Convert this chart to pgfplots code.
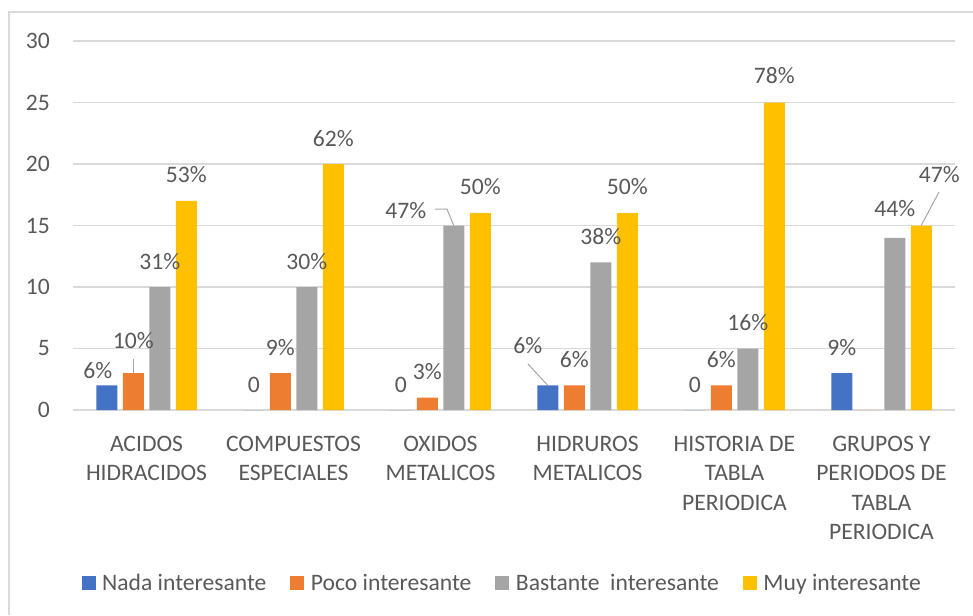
\documentclass[border=0pt]{standalone}
\usepackage{fontspec}
\setmainfont{Carlito}
\usepackage{pgfplots}
\usepackage{pgfplotstable}
\pgfplotsset{compat=1.18}

\definecolor{cNada}{HTML}{4472C4}
\definecolor{cPoco}{HTML}{ED7D31}
\definecolor{cBast}{HTML}{A5A5A5}
\definecolor{cMuy}{HTML}{FFC000}
\definecolor{txt}{HTML}{595959}
\definecolor{gridc}{HTML}{D9D9D9}
\definecolor{leader}{HTML}{A6A6A6}

\newcommand{\chartfont}{\fontsize{23.6}{29.3}\selectfont}

\pgfplotsset{
  sq legend/.style={legend image code/.code={\fill[##1,draw=none] (0pt,-7pt) rectangle (14pt,7pt);}},
}

% columns: category index, count, data label, label offsets (pt)
\pgfplotstableread{
x y lab dx dy
0 2 6\% -9 7
1 0 0 0 18
2 0 0 0 18
3 2 6\% -20 32
4 0 0 0 18
5 3 9\% 0 18
}\nada

\pgfplotstableread{
x y lab dx dy
0 3 10\% 0 25
1 3 9\% 0 18
2 1 3\% 0 18
3 2 6\% 0 18
4 2 6\% 0 18
5 0 {} 0 18
}\poco

\pgfplotstableread{
x y lab dx dy
0 10 31\% 0 18
1 10 30\% 0 18
2 15 47\% -48 7.5
3 12 38\% 0 18
4 5 16\% 0 18
5 14 44\% 0 21
}\bastante

\pgfplotstableread{
x y lab dx dy
0 17 53\% 0 18
1 20 62\% 0 18
2 16 50\% 0 19
3 16 50\% 0 19
4 25 78\% 0 19
5 15 47\% 18 43
}\muy

\begin{document}
\begin{tikzpicture}
% chart frame (left and top edges)
\draw[gridc, line width=1.5pt] (9pt,-615pt) -- (9pt,-12pt) -- (973pt,-12pt);

\begin{axis}[
  at={(73pt,-410pt)}, anchor=south west,
  scale only axis, width=882pt, height=369pt,
  ybar=5.5pt, bar width=21pt,
  xmin=-0.5, xmax=5.5, ymin=0, ymax=30,
  ytick={0,5,...,30}, xtick={0,...,5},
  xticklabels={{ACIDOS\\HIDRACIDOS},{COMPUESTOS\\ESPECIALES},{OXIDOS\\METALICOS},{HIDRUROS\\METALICOS},{HISTORIA DE\\TABLA\\PERIODICA},{GRUPOS Y\\PERIODOS DE\\TABLA\\PERIODICA}},
  /pgf/number format/assume math mode=true,
  xticklabel style={align=center, anchor=north, inner sep=0pt, yshift=-26pt, font=\chartfont, text=txt},
  yticklabel style={anchor=east, inner sep=0pt, xshift=-23pt, font=\chartfont, text=txt},
  axis line style={draw=none},
  major tick length=0pt,
  ymajorgrids, grid style={gridc, line width=1.3pt},
  point meta=explicit symbolic,
  nodes near coords,
  visualization depends on={\thisrow{dx} \as \dx},
  visualization depends on={\thisrow{dy} \as \dy},
  every node near coord/.append style={anchor=base, inner sep=0pt, xshift=\dx pt, yshift=\dy pt, font=\chartfont, text=txt},
  legend columns=4,
  legend style={draw=none, fill=none, at={(0.4855,-0.469)}, anchor=center,
    font=\chartfont, text=txt, inner sep=0pt, nodes={inner sep=0pt},
    /tikz/every odd column/.append style={column sep=6.5pt},
    /tikz/every even column/.append style={column sep=24pt}},
]
\addplot[fill=cNada, draw=none, sq legend] table[x=x, y=y, meta=lab] {\nada};
\addplot[fill=cPoco, draw=none, sq legend] table[x=x, y=y, meta=lab] {\poco};
\addplot[fill=cBast, draw=none, sq legend] table[x=x, y=y, meta=lab] {\bastante};
\addplot[fill=cMuy, draw=none, sq legend] table[x=x, y=y, meta=lab] {\muy};
\legend{Nada interesante, Poco interesante, Bastante\ \ interesante, Muy interesante}

% leader lines joining moved labels to their bars
\draw[leader, line width=1pt] (axis cs:-0.09,4.15) -- (axis cs:-0.09,3);
\draw[leader, line width=1pt] (axis cs:1.963,16.34) -- (axis cs:2.044,16.34) -- (axis cs:2.09,15);
\draw[leader, line width=1pt] (axis cs:2.595,3.74) -- (axis cs:2.73,2);
\draw[leader, line width=1pt] (axis cs:5.391,17.72) -- (axis cs:5.27,15);
\end{axis}

\pgfresetboundingbox
\useasboundingbox (0pt,0pt) rectangle (973pt,-615pt);
\end{tikzpicture}
\end{document}
